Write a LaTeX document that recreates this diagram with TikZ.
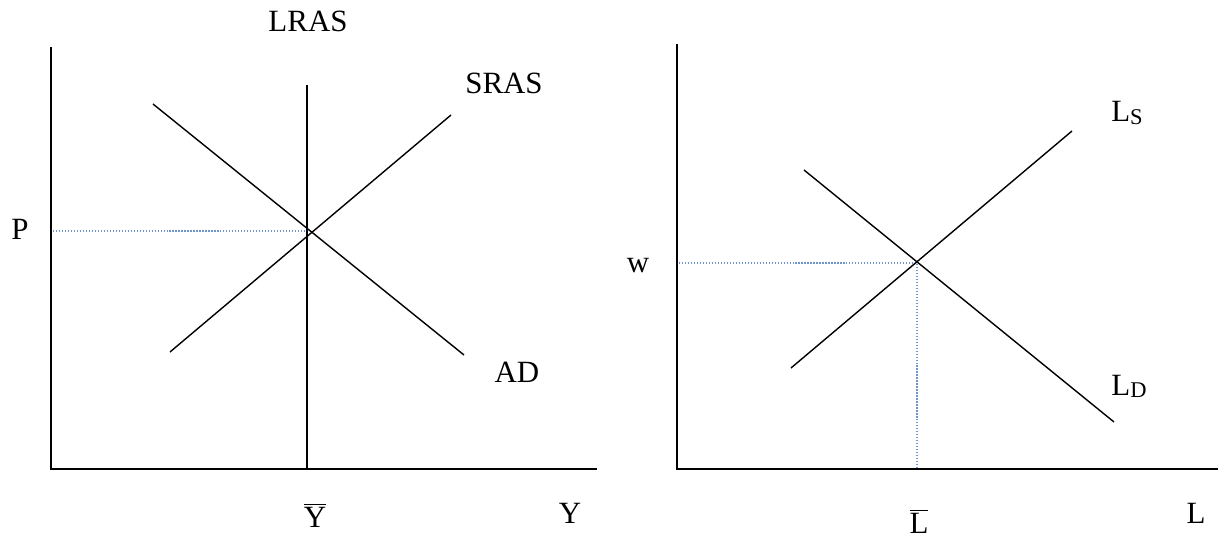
\documentclass[tikz,border=0pt]{standalone}
\usepackage{fontspec}
\setmainfont{Liberation Serif}
\usetikzlibrary{positioning}
\definecolor{guiaazul}{RGB}{110,150,205}
\newcommand{\subind}[2]{#1\raisebox{-1.3pt}{\fontsize{12.8}{14}\selectfont #2}}
\newcommand{\barra}[1]{\ensuremath{\overline{\mbox{#1}}}}

\begin{document}
\begin{tikzpicture}[x=0.02cm, y=-0.02cm, font=\fontsize{17.6}{21}\selectfont]
\tikzset{eje/.style={line width=0.8pt},
  curva/.style={line width=0.8pt},
  guia/.style={densely dotted, line width=0.7pt, guiaazul},
  etiq/.style={inner sep=0pt, anchor=base}}
\useasboundingbox (0,0) rectangle (1221,537);

% Mercado de bienes
\draw[eje] (51,47) -- (51,469) -- (597,469);
\coordinate (E1) at (307,231);
\draw[guia] (53,231) -- (E1);
\draw[curva] (307,85) -- (307,469);
\draw[curva] (153,104) -- (464,355);
\draw[curva] (170,352) -- (451,115);
\node[etiq] (lras) at (308,32) {LRAS};
\node[etiq] (sras) at (504,94) {SRAS};
\node[etiq] (ad) at (517,382) {AD};
\node[etiq] (p) at (20,239) {P};
\node[etiq] (ybar) at (315,527) {\barra{Y}};
\node[etiq] (y) at (570,523) {Y};

% Mercado de trabajo
\draw[eje] (677,44) -- (677,469) -- (1218,469);
\coordinate (E2) at (917,263);
\draw[guia] (679,263) -- (E2) -- (917,469);
\draw[curva] (791,368) -- (1072,131);
\draw[curva] (804,170) -- (1114,422);
\node[etiq] (ls) at (1127,122) {\subind{L}{S}};
\node[etiq] (ld) at (1129,395) {\subind{L}{D}};
\node[etiq] (w) at (638,272) {w};
\node[etiq] (lbar) at (919,533) {\barra{L}};
\node[etiq] (l) at (1196,523) {L};
\end{tikzpicture}
\end{document}
